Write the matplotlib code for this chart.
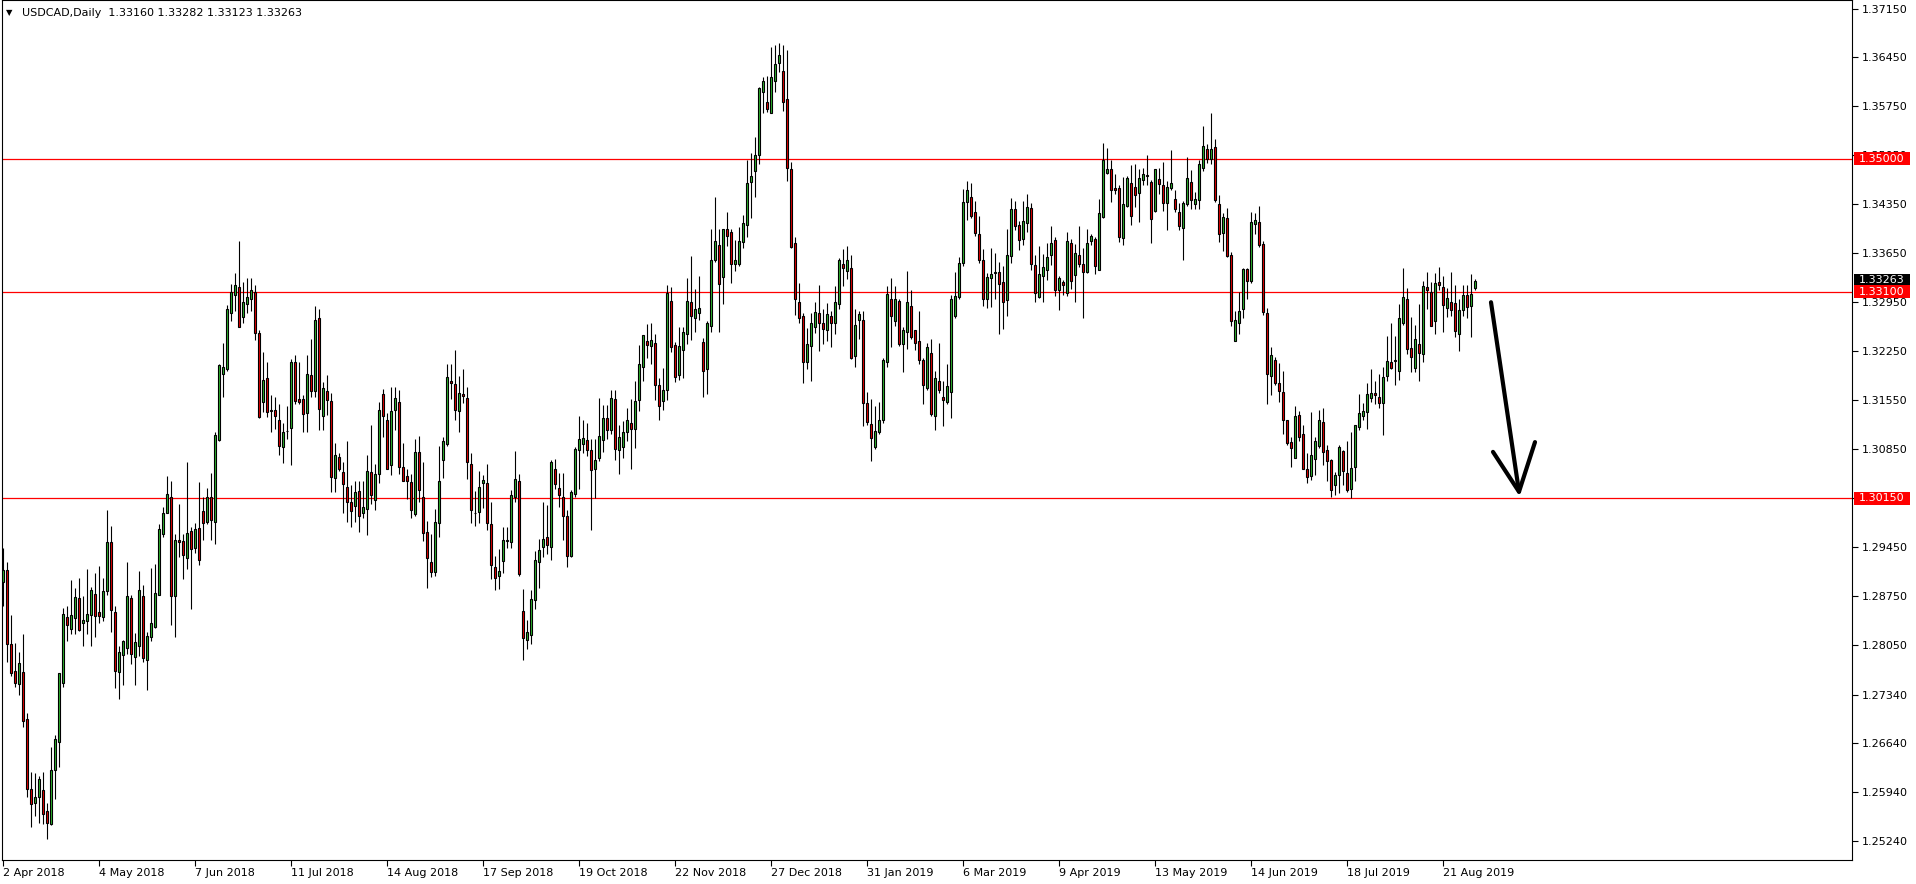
import matplotlib
matplotlib.use("Agg")
import matplotlib.pyplot as plt
from matplotlib.patches import Rectangle

# USDCAD daily candles, 2 Apr 2018 .. 2 Sep 2019
opens = [
    1.2895, 1.2912, 1.2806, 1.2768, 1.2749, 1.2766, 1.2699, 1.2599, 1.2579, 1.2587,
    1.2597, 1.2567, 1.2549, 1.2626, 1.2666, 1.2751, 1.2845, 1.2828, 1.2843, 1.2872,
    1.2836, 1.2839, 1.2848, 1.2878, 1.2852, 1.2845, 1.2882, 1.2952, 1.2852, 1.2766,
    1.2790, 1.2800, 1.2872, 1.2788, 1.2803, 1.2875, 1.2784, 1.2816, 1.2831, 1.2876,
    1.2964, 1.2994, 1.3016, 1.2875, 1.2955, 1.2954, 1.2929, 1.2968, 1.2943, 1.2972,
    1.2996, 1.2981, 1.3016, 1.2981, 1.3098, 1.3192, 1.3200, 1.3280, 1.3306, 1.3317,
    1.3274, 1.3293, 1.3299, 1.3310, 1.3251, 1.3152, 1.3187, 1.3141, 1.3141, 1.3127,
    1.3088, 1.3111, 1.3115, 1.3210, 1.3156, 1.3157, 1.3136, 1.3191, 1.3168, 1.3273,
    1.3132, 1.3168, 1.3154, 1.3043, 1.3074, 1.3052, 1.3031, 1.3009, 1.3003, 1.3025,
    1.2993, 1.3000, 1.3052, 1.3012, 1.3049, 1.3164, 1.3127, 1.3062, 1.3141, 1.3152,
    1.3060, 1.3047, 1.3038, 1.2992, 1.3081, 1.3017, 1.2967, 1.2924, 1.2909, 1.2979,
    1.3070, 1.3092, 1.3183, 1.3178, 1.3139, 1.3164, 1.3158, 1.3064, 1.2994, 1.2995,
    1.3036, 1.3037, 1.2978, 1.2917, 1.2904, 1.2925, 1.2954, 1.2952, 1.3017, 1.3039,
    1.2854, 1.2812, 1.2819, 1.2869, 1.2924, 1.2945, 1.2959, 1.2945, 1.3057, 1.3030,
    1.3017, 1.2990, 1.2932, 1.3021, 1.3084, 1.3092, 1.3098, 1.3083, 1.3056, 1.3072,
    1.3098, 1.3129, 1.3113, 1.3157, 1.3084, 1.3088, 1.3110, 1.3122, 1.3114, 1.3155,
    1.3203, 1.3240, 1.3233, 1.3237, 1.3177, 1.3154, 1.3170, 1.3297, 1.3234, 1.3191,
    1.3227, 1.3250, 1.3296, 1.3272, 1.3280, 1.3238, 1.3199, 1.3261, 1.3355, 1.3377,
    1.3331, 1.3400, 1.3395, 1.3350, 1.3350, 1.3381, 1.3406, 1.3467, 1.3482, 1.3506,
    1.3595, 1.3582, 1.3566, 1.3612, 1.3637, 1.3625, 1.3585, 1.3486, 1.3379, 1.3296,
    1.3275, 1.3210, 1.3232, 1.3260, 1.3280, 1.3266, 1.3256, 1.3276, 1.3266, 1.3293,
    1.3350, 1.3340, 1.3344, 1.3218, 1.3269, 1.3270, 1.3151, 1.3121, 1.3088, 1.3110,
    1.3126, 1.3210, 1.3299, 1.3268, 1.3297, 1.3235, 1.3253, 1.3289, 1.3255, 1.3240,
    1.3213, 1.3173, 1.3223, 1.3133, 1.3183, 1.3160, 1.3152, 1.3167, 1.3276, 1.3302,
    1.3351, 1.3439, 1.3446, 1.3424, 1.3393, 1.3355, 1.3299, 1.3330, 1.3337, 1.3338,
    1.3324, 1.3298, 1.3361, 1.3429, 1.3406, 1.3385, 1.3409, 1.3430, 1.3348, 1.3303,
    1.3332, 1.3341, 1.3362, 1.3384, 1.3312, 1.3324, 1.3308, 1.3379, 1.3334, 1.3362,
    1.3349, 1.3338, 1.3382, 1.3385, 1.3341, 1.3417, 1.3480, 1.3486, 1.3459, 1.3458,
    1.3387, 1.3433, 1.3466, 1.3460, 1.3451, 1.3470, 1.3477, 1.3467, 1.3425, 1.3471,
    1.3462, 1.3437, 1.3459, 1.3442, 1.3424, 1.3401, 1.3436, 1.3467, 1.3436, 1.3441,
    1.3487, 1.3514, 1.3500, 1.3517, 1.3436, 1.3394, 1.3415, 1.3362, 1.3239, 1.3266,
    1.3285, 1.3342, 1.3325, 1.3407, 1.3410, 1.3378, 1.3280, 1.3189, 1.3213, 1.3179,
    1.3167, 1.3126, 1.3095, 1.3072, 1.3134, 1.3106, 1.3056, 1.3046, 1.3071, 1.3090,
    1.3124, 1.3083, 1.3070, 1.3033, 1.3048, 1.3082, 1.3051, 1.3028, 1.3060, 1.3117,
    1.3132, 1.3138, 1.3158, 1.3165, 1.3160, 1.3151, 1.3189, 1.3210, 1.3211, 1.3196,
    1.3266, 1.3300, 1.3230, 1.3201, 1.3235, 1.3221, 1.3317, 1.3310, 1.3268, 1.3324,
    1.3317, 1.3287, 1.3296, 1.3294, 1.3250, 1.3284, 1.3306, 1.3289, 1.3316]

highs = [
    1.2944, 1.2924, 1.2848, 1.2807, 1.2795, 1.2820, 1.2708, 1.2623, 1.2622, 1.2618,
    1.2623, 1.2579, 1.2659, 1.2676, 1.2765, 1.2858, 1.2861, 1.2898, 1.2886, 1.2900,
    1.2875, 1.2914, 1.2888, 1.2908, 1.2918, 1.2900, 1.2998, 1.2975, 1.2860, 1.2803,
    1.2812, 1.2924, 1.2877, 1.2822, 1.2911, 1.2891, 1.2823, 1.2915, 1.2921, 1.2978,
    1.3002, 1.3047, 1.3039, 1.2963, 1.3006, 1.2964, 1.3067, 1.2974, 1.2979, 1.3038,
    1.3016, 1.3029, 1.3051, 1.3110, 1.3206, 1.3237, 1.3291, 1.3321, 1.3337, 1.3382,
    1.3324, 1.3329, 1.3330, 1.3320, 1.3256, 1.3224, 1.3209, 1.3162, 1.3160, 1.3150,
    1.3122, 1.3146, 1.3214, 1.3219, 1.3209, 1.3163, 1.3219, 1.3242, 1.3290, 1.3285,
    1.3181, 1.3191, 1.3165, 1.3093, 1.3079, 1.3067, 1.3096, 1.3033, 1.3040, 1.3040,
    1.3040, 1.3076, 1.3120, 1.3064, 1.3153, 1.3171, 1.3137, 1.3174, 1.3174, 1.3170,
    1.3093, 1.3057, 1.3050, 1.3099, 1.3104, 1.3067, 1.2982, 1.2963, 1.3000, 1.3089,
    1.3102, 1.3207, 1.3206, 1.3226, 1.3190, 1.3199, 1.3174, 1.3079, 1.3025, 1.3054,
    1.3048, 1.3064, 1.3010, 1.2932, 1.2942, 1.2973, 1.2973, 1.3026, 1.3082, 1.3049,
    1.2885, 1.2841, 1.2883, 1.2939, 1.2956, 1.3010, 1.3005, 1.3069, 1.3071, 1.3051,
    1.3051, 1.2998, 1.3026, 1.3088, 1.3133, 1.3126, 1.3122, 1.3099, 1.3099, 1.3158,
    1.3148, 1.3148, 1.3170, 1.3170, 1.3119, 1.3125, 1.3144, 1.3157, 1.3183, 1.3234,
    1.3248, 1.3264, 1.3265, 1.3250, 1.3187, 1.3201, 1.3319, 1.3317, 1.3238, 1.3259,
    1.3259, 1.3329, 1.3361, 1.3314, 1.3333, 1.3244, 1.3268, 1.3400, 1.3445, 1.3400,
    1.3400, 1.3424, 1.3400, 1.3384, 1.3403, 1.3420, 1.3498, 1.3508, 1.3531, 1.3603,
    1.3617, 1.3619, 1.3660, 1.3663, 1.3665, 1.3663, 1.3655, 1.3496, 1.3389, 1.3323,
    1.3279, 1.3258, 1.3279, 1.3296, 1.3319, 1.3285, 1.3294, 1.3283, 1.3318, 1.3358,
    1.3371, 1.3376, 1.3362, 1.3286, 1.3283, 1.3282, 1.3166, 1.3157, 1.3147, 1.3153,
    1.3215, 1.3318, 1.3329, 1.3318, 1.3299, 1.3260, 1.3340, 1.3313, 1.3256, 1.3282,
    1.3215, 1.3236, 1.3242, 1.3197, 1.3236, 1.3183, 1.3207, 1.3306, 1.3338, 1.3360,
    1.3457, 1.3469, 1.3466, 1.3440, 1.3418, 1.3371, 1.3337, 1.3372, 1.3366, 1.3352,
    1.3347, 1.3400, 1.3444, 1.3440, 1.3411, 1.3440, 1.3450, 1.3437, 1.3363, 1.3375,
    1.3364, 1.3379, 1.3404, 1.3388, 1.3332, 1.3327, 1.3396, 1.3385, 1.3378, 1.3404,
    1.3373, 1.3400, 1.3393, 1.3389, 1.3443, 1.3522, 1.3516, 1.3498, 1.3479, 1.3462,
    1.3474, 1.3476, 1.3491, 1.3493, 1.3486, 1.3487, 1.3505, 1.3470, 1.3486, 1.3487,
    1.3495, 1.3468, 1.3513, 1.3456, 1.3437, 1.3440, 1.3502, 1.3484, 1.3453, 1.3499,
    1.3547, 1.3521, 1.3565, 1.3528, 1.3449, 1.3423, 1.3430, 1.3367, 1.3282, 1.3309,
    1.3344, 1.3344, 1.3424, 1.3423, 1.3432, 1.3383, 1.3287, 1.3231, 1.3216, 1.3208,
    1.3196, 1.3126, 1.3102, 1.3146, 1.3139, 1.3119, 1.3080, 1.3138, 1.3103, 1.3141,
    1.3144, 1.3091, 1.3071, 1.3052, 1.3091, 1.3084, 1.3096, 1.3110, 1.3120, 1.3164,
    1.3151, 1.3180, 1.3199, 1.3183, 1.3192, 1.3203, 1.3247, 1.3266, 1.3247, 1.3292,
    1.3344, 1.3315, 1.3274, 1.3263, 1.3293, 1.3325, 1.3338, 1.3324, 1.3337, 1.3346,
    1.3332, 1.3316, 1.3338, 1.3319, 1.3300, 1.3319, 1.3319, 1.3335, 1.3328]

lows = [
    1.2861, 1.2780, 1.2760, 1.2745, 1.2733, 1.2687, 1.2587, 1.2544, 1.2561, 1.2551,
    1.2549, 1.2527, 1.2547, 1.2585, 1.2630, 1.2745, 1.2811, 1.2820, 1.2820, 1.2825,
    1.2804, 1.2820, 1.2803, 1.2816, 1.2836, 1.2839, 1.2876, 1.2824, 1.2743, 1.2728,
    1.2748, 1.2792, 1.2777, 1.2748, 1.2789, 1.2781, 1.2741, 1.2811, 1.2829, 1.2876,
    1.2960, 1.2994, 1.2834, 1.2817, 1.2930, 1.2899, 1.2913, 1.2856, 1.2936, 1.2919,
    1.2955, 1.2978, 1.2955, 1.2949, 1.3097, 1.3159, 1.3196, 1.3268, 1.3282, 1.3260,
    1.3265, 1.3279, 1.3282, 1.3241, 1.3130, 1.3138, 1.3131, 1.3110, 1.3114, 1.3076,
    1.3065, 1.3100, 1.3062, 1.3149, 1.3150, 1.3109, 1.3110, 1.3160, 1.3159, 1.3113,
    1.3113, 1.3134, 1.3023, 1.3024, 1.3053, 1.2993, 1.2981, 1.2974, 1.2981, 1.2967,
    1.2986, 1.2962, 1.3006, 1.2998, 1.3037, 1.3103, 1.3056, 1.3048, 1.3113, 1.3050,
    1.3039, 1.3013, 1.2986, 1.2989, 1.3010, 1.2953, 1.2886, 1.2902, 1.2903, 1.2960,
    1.3043, 1.3089, 1.3156, 1.3127, 1.3109, 1.3151, 1.3042, 1.2979, 1.2975, 1.2980,
    1.3001, 1.2970, 1.2899, 1.2884, 1.2885, 1.2908, 1.2944, 1.2944, 1.3010, 1.2904,
    1.2783, 1.2799, 1.2806, 1.2857, 1.2887, 1.2931, 1.2935, 1.2926, 1.3028, 1.3002,
    1.2955, 1.2916, 1.2931, 1.3017, 1.3028, 1.3080, 1.3075, 1.2970, 1.3015, 1.3068,
    1.3081, 1.3099, 1.3107, 1.3069, 1.3049, 1.3072, 1.3097, 1.3056, 1.3087, 1.3139,
    1.3183, 1.3215, 1.3206, 1.3155, 1.3126, 1.3141, 1.3155, 1.3224, 1.3181, 1.3184,
    1.3187, 1.3235, 1.3241, 1.3253, 1.3270, 1.3160, 1.3164, 1.3252, 1.3352, 1.3253,
    1.3292, 1.3376, 1.3323, 1.3339, 1.3347, 1.3373, 1.3389, 1.3415, 1.3446, 1.3493,
    1.3565, 1.3567, 1.3566, 1.3595, 1.3624, 1.3568, 1.3468, 1.3373, 1.3277, 1.3266,
    1.3180, 1.3200, 1.3182, 1.3251, 1.3225, 1.3235, 1.3239, 1.3231, 1.3250, 1.3286,
    1.3318, 1.3328, 1.3214, 1.3202, 1.3242, 1.3118, 1.3120, 1.3068, 1.3085, 1.3106,
    1.3123, 1.3202, 1.3231, 1.3261, 1.3232, 1.3195, 1.3228, 1.3243, 1.3227, 1.3206,
    1.3150, 1.3170, 1.3133, 1.3112, 1.3165, 1.3118, 1.3150, 1.3130, 1.3273, 1.3299,
    1.3347, 1.3412, 1.3416, 1.3390, 1.3351, 1.3289, 1.3287, 1.3288, 1.3300, 1.3250,
    1.3257, 1.3275, 1.3351, 1.3399, 1.3370, 1.3377, 1.3395, 1.3341, 1.3295, 1.3301,
    1.3295, 1.3327, 1.3348, 1.3304, 1.3284, 1.3306, 1.3304, 1.3314, 1.3296, 1.3346,
    1.3273, 1.3337, 1.3377, 1.3336, 1.3341, 1.3416, 1.3479, 1.3439, 1.3450, 1.3381,
    1.3377, 1.3431, 1.3405, 1.3431, 1.3410, 1.3463, 1.3462, 1.3379, 1.3424, 1.3450,
    1.3426, 1.3399, 1.3456, 1.3424, 1.3398, 1.3356, 1.3432, 1.3429, 1.3428, 1.3429,
    1.3483, 1.3494, 1.3492, 1.3439, 1.3381, 1.3368, 1.3359, 1.3261, 1.3239, 1.3249,
    1.3272, 1.3299, 1.3322, 1.3392, 1.3374, 1.3277, 1.3150, 1.3162, 1.3176, 1.3152,
    1.3106, 1.3091, 1.3059, 1.3072, 1.3097, 1.3056, 1.3037, 1.3041, 1.3048, 1.3086,
    1.3062, 1.3040, 1.3017, 1.3020, 1.3022, 1.3034, 1.3024, 1.3015, 1.3039, 1.3113,
    1.3127, 1.3114, 1.3153, 1.3150, 1.3144, 1.3105, 1.3182, 1.3199, 1.3176, 1.3184,
    1.3263, 1.3221, 1.3195, 1.3195, 1.3183, 1.3209, 1.3285, 1.3261, 1.3250, 1.3313,
    1.3253, 1.3274, 1.3276, 1.3246, 1.3225, 1.3275, 1.3272, 1.3246, 1.3312]

closes = [
    1.2912, 1.2806, 1.2765, 1.2751, 1.2779, 1.2696, 1.2599, 1.2577, 1.2587, 1.2613,
    1.2563, 1.2551, 1.2626, 1.2670, 1.2765, 1.2849, 1.2833, 1.2848, 1.2874, 1.2826,
    1.2840, 1.2849, 1.2884, 1.2846, 1.2846, 1.2882, 1.2952, 1.2855, 1.2767, 1.2795,
    1.2810, 1.2875, 1.2792, 1.2809, 1.2884, 1.2786, 1.2818, 1.2837, 1.2879, 1.2971,
    1.2994, 1.3021, 1.2875, 1.2955, 1.2952, 1.2933, 1.2965, 1.2942, 1.2971, 1.2926,
    1.2979, 1.3016, 1.2983, 1.3105, 1.3205, 1.3202, 1.3285, 1.3310, 1.3320, 1.3260,
    1.3295, 1.3303, 1.3313, 1.3251, 1.3131, 1.3184, 1.3138, 1.3140, 1.3133, 1.3090,
    1.3110, 1.3111, 1.3210, 1.3154, 1.3152, 1.3135, 1.3192, 1.3168, 1.3270, 1.3143,
    1.3172, 1.3155, 1.3045, 1.3077, 1.3057, 1.3035, 1.3010, 1.2996, 1.3024, 1.2990,
    1.3002, 1.3054, 1.3020, 1.3050, 1.3141, 1.3133, 1.3056, 1.3140, 1.3158, 1.3060,
    1.3039, 1.3039, 1.2998, 1.3081, 1.3026, 1.2965, 1.2929, 1.2909, 1.2981, 1.3040,
    1.3097, 1.3188, 1.3180, 1.3141, 1.3165, 1.3161, 1.3067, 1.2998, 1.2994, 1.3031,
    1.3041, 1.2979, 1.2919, 1.2901, 1.2911, 1.2955, 1.2955, 1.3019, 1.3042, 1.2906,
    1.2815, 1.2823, 1.2871, 1.2927, 1.2940, 1.2957, 1.2948, 1.3067, 1.3035, 1.3019,
    1.2990, 1.2932, 1.3024, 1.3085, 1.3099, 1.3101, 1.3084, 1.3055, 1.3069, 1.3104,
    1.3129, 1.3113, 1.3158, 1.3085, 1.3102, 1.3110, 1.3126, 1.3114, 1.3154, 1.3207,
    1.3248, 1.3234, 1.3241, 1.3177, 1.3147, 1.3170, 1.3308, 1.3231, 1.3188, 1.3233,
    1.3252, 1.3297, 1.3276, 1.3285, 1.3287, 1.3197, 1.3265, 1.3356, 1.3382, 1.3321,
    1.3400, 1.3390, 1.3350, 1.3356, 1.3383, 1.3409, 1.3466, 1.3476, 1.3506, 1.3601,
    1.3612, 1.3572, 1.3617, 1.3636, 1.3648, 1.3582, 1.3487, 1.3374, 1.3300, 1.3272,
    1.3210, 1.3235, 1.3266, 1.3281, 1.3266, 1.3257, 1.3278, 1.3266, 1.3296, 1.3355,
    1.3344, 1.3355, 1.3215, 1.3262, 1.3278, 1.3151, 1.3124, 1.3101, 1.3111, 1.3127,
    1.3213, 1.3307, 1.3276, 1.3300, 1.3235, 1.3256, 1.3295, 1.3245, 1.3237, 1.3212,
    1.3176, 1.3231, 1.3135, 1.3187, 1.3169, 1.3155, 1.3175, 1.3299, 1.3304, 1.3351,
    1.3439, 1.3455, 1.3419, 1.3394, 1.3355, 1.3300, 1.3331, 1.3335, 1.3338, 1.3321,
    1.3296, 1.3363, 1.3429, 1.3404, 1.3384, 1.3411, 1.3431, 1.3349, 1.3308, 1.3336,
    1.3346, 1.3360, 1.3380, 1.3312, 1.3330, 1.3319, 1.3382, 1.3326, 1.3366, 1.3350,
    1.3338, 1.3380, 1.3390, 1.3347, 1.3423, 1.3498, 1.3485, 1.3455, 1.3456, 1.3389,
    1.3436, 1.3473, 1.3419, 1.3448, 1.3473, 1.3478, 1.3475, 1.3414, 1.3485, 1.3464,
    1.3437, 1.3460, 1.3466, 1.3429, 1.3404, 1.3437, 1.3473, 1.3441, 1.3443, 1.3493,
    1.3519, 1.3500, 1.3514, 1.3441, 1.3393, 1.3417, 1.3361, 1.3268, 1.3269, 1.3283,
    1.3343, 1.3325, 1.3410, 1.3413, 1.3377, 1.3281, 1.3192, 1.3219, 1.3179, 1.3168,
    1.3126, 1.3094, 1.3086, 1.3132, 1.3103, 1.3057, 1.3045, 1.3077, 1.3097, 1.3127,
    1.3081, 1.3068, 1.3026, 1.3048, 1.3088, 1.3053, 1.3026, 1.3058, 1.3119, 1.3136,
    1.3140, 1.3164, 1.3165, 1.3162, 1.3151, 1.3188, 1.3211, 1.3201, 1.3213, 1.3273,
    1.3303, 1.3228, 1.3216, 1.3242, 1.3223, 1.3318, 1.3312, 1.3261, 1.3323, 1.3319,
    1.3291, 1.3301, 1.3284, 1.3254, 1.3284, 1.3305, 1.3288, 1.3307, 1.3326]

date_pos = [0, 24, 48, 72, 96, 120, 144, 168, 192, 216, 240, 264, 288, 312, 336, 360]
date_labels = ["2 Apr 2018", "4 May 2018", "7 Jun 2018", "11 Jul 2018", "14 Aug 2018",
               "17 Sep 2018", "19 Oct 2018", "22 Nov 2018", "27 Dec 2018", "31 Jan 2019",
               "6 Mar 2019", "9 Apr 2019", "13 May 2019", "14 Jun 2019", "18 Jul 2019",
               "21 Aug 2019"]
price_ticks = [1.37150, 1.36450, 1.35750, 1.35050, 1.34350, 1.33650, 1.32950, 1.32250,
               1.31550, 1.30850, 1.30150, 1.29450, 1.28750, 1.28050, 1.27340, 1.26640,
               1.25940, 1.25240]
levels = [1.35000, 1.33100, 1.30150]
last_price = 1.33263
title = "USDCAD,Daily  1.33160 1.33282 1.33123 1.33263"

# hand drawn arrow (bar index, price)
arrow_x = [372.0, 379.0]
arrow_y = [1.3295, 1.3024]
head_x = [372.5, 379.0, 383.0]
head_y = [1.3081, 1.3024, 1.3095]

W, H = 1916, 884
fig = plt.figure(figsize=(W / 100, H / 100), dpi=100)
ax = fig.add_axes([2 / W, 24 / H, 1850 / W, 860 / H])

n = len(closes)
idx = list(range(n))
bottoms = [min(o, c) for o, c in zip(opens, closes)]
heights = [abs(c - o) for o, c in zip(opens, closes)]
colors = ['#2fb52f' if c >= o else '#e60000' for o, c in zip(opens, closes)]

ax.vlines(idx, lows, highs, color='black', linewidth=0.8, zorder=2)
ax.bar(idx, heights, width=0.6, bottom=bottoms, color=colors,
       edgecolor='black', linewidth=0.8, zorder=3)

for lv in levels:
    ax.axhline(lv, color='#ff0000', linewidth=0.9, zorder=1)

ax.plot(arrow_x, arrow_y, color='black', linewidth=3, solid_capstyle='round', zorder=4)
ax.plot(head_x, head_y, color='black', linewidth=3, solid_capstyle='round',
        solid_joinstyle='round', zorder=4)

ax.set_xlim(-0.25, 462.25)
ax.set_ylim(1.24974, 1.37272)

ax.yaxis.tick_right()
ax.set_yticks(price_ticks)
ax.set_yticklabels(["%.5f" % p for p in price_ticks])
ax.set_xticks(date_pos)
ax.set_xticklabels(date_labels, ha='left')
ax.tick_params(axis='y', direction='out', length=4, width=0.8, labelsize=8, pad=3)
ax.tick_params(axis='x', direction='out', length=4, width=0.8, labelsize=8, pad=2)
for s in ax.spines.values():
    s.set_linewidth(0.8)
    s.set_color('black')

# price tags on the right scale
tr = ax.get_yaxis_transform()
px_w = 1 / 1850
px_h = (1.37272 - 1.24974) / 860
def tag(price, fc):
    ax.add_patch(Rectangle((1 + 2 * px_w, price - 6.5 * px_h), 56 * px_w, 13 * px_h,
                           transform=tr, facecolor=fc, edgecolor='none',
                           clip_on=False, zorder=6))
    ax.text(1 + 7 * px_w, price, "%.5f" % price, transform=tr, color='white',
            fontsize=8, va='center', ha='left', zorder=7, clip_on=False)

tag(last_price, 'black')
for lv in levels:
    tag(lv, '#ff0000')

fig.text(6 / W, 1 - 13 / H, "\u25bc", fontsize=6, va='center', ha='left')
fig.text(22 / W, 1 - 13 / H, title, fontsize=8, va='center', ha='left')

fig.savefig("out.png", dpi=100)
